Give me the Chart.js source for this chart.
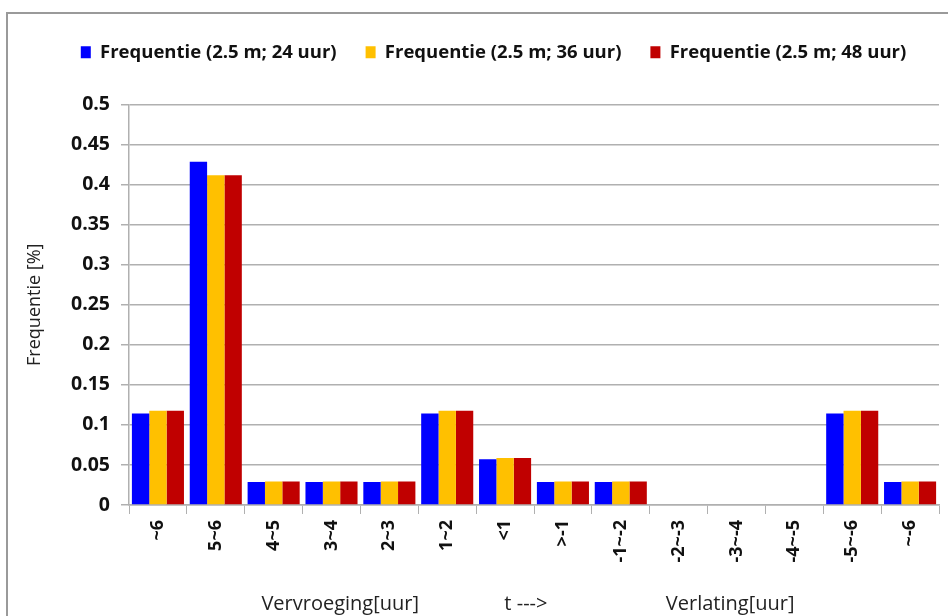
<!DOCTYPE html>
<html>
<head>
<meta charset="utf-8">
<script src="https://cdn.jsdelivr.net/npm/chart.js@4/dist/chart.umd.min.js"></script>
<style>
  html, body { margin: 0; padding: 0; background: #fff; }
  #wrap { width: 948px; height: 616px; position: relative; }
</style>
</head>
<body>
<div id="wrap"><canvas id="myChart" width="948" height="616"></canvas></div>
<script>
// categories (uur) and frequencies per series
const categories = ['~6', '5~6', '4~5', '3~4', '2~3', '1~2', '<1', '>-1', '-1~-2', '-2~-3', '-3~-4', '-4~-5', '-5~-6', '~-6'];
const freq24 = [0.1143, 0.4286, 0.0286, 0.0286, 0.0286, 0.1143, 0.0571, 0.0286, 0.0286, 0, 0, 0, 0.1143, 0.0286];
const freq36 = [0.1176, 0.4118, 0.0294, 0.0294, 0.0294, 0.1176, 0.0588, 0.0294, 0.0294, 0, 0, 0, 0.1176, 0.0294];
const freq48 = [0.1176, 0.4118, 0.0294, 0.0294, 0.0294, 0.1176, 0.0588, 0.0294, 0.0294, 0, 0, 0, 0.1176, 0.0294];
const seriesLabels = ['Frequentie (2.5 m; 24 uur)', 'Frequentie (2.5 m; 36 uur)', 'Frequentie (2.5 m; 48 uur)'];
const yTicks = [0, 0.05, 0.1, 0.15, 0.2, 0.25, 0.3, 0.35, 0.4, 0.45, 0.5];

const FONT = "'Open Sans', sans-serif";
const gridGray = '#b0b0b0';

// frame + bottom axis texts
const extras = {
  id: 'extras',
  beforeInit(chart) {
    // extra room under the legend
    const fit = chart.legend.fit;
    chart.legend.fit = function () { fit.call(this); this.height += 33; };
  },
  afterLayout(chart) {
    // legend sits a bit right of centre in the original
    chart.legend.left += 20;
    chart.legend.right += 20;
  },
  beforeDraw(chart) {
    const c = chart.ctx;
    c.save();
    c.fillStyle = '#fff';
    c.fillRect(0, 0, chart.width, chart.height);
    c.strokeStyle = '#9a9a9a';
    c.lineWidth = 2;
    c.strokeRect(7, 13, chart.width + 20, chart.height + 20);
    c.restore();
  },
  afterDraw(chart) {
    const c = chart.ctx, x = chart.scales.x;
    c.save();
    c.font = "20px " + FONT;
    c.fillStyle = '#222';
    c.textAlign = 'center';
    c.textBaseline = 'middle';
    c.fillText('Vervroeging[uur]', x.getPixelForValue(3.15), 604);
    c.fillText('t --->', x.getPixelForValue(6.36), 604);
    c.fillText('Verlating[uur]', x.getPixelForValue(9.89), 604);
    c.restore();
  }
};

new Chart(document.getElementById('myChart').getContext('2d'), {
  type: 'bar',
  data: {
    labels: categories,
    datasets: [
      { label: seriesLabels[0], data: freq24, backgroundColor: '#0000ff' },
      { label: seriesLabels[1], data: freq36, backgroundColor: '#ffc000' },
      { label: seriesLabels[2], data: freq48, backgroundColor: '#c00000' }
    ]
  },
  options: {
    responsive: false,
    animation: false,
    devicePixelRatio: 1,
    layout: { padding: { left: 8, right: 9, top: 14, bottom: 0 } },
    datasets: { bar: { categoryPercentage: 0.9, barPercentage: 1.0 } },
    plugins: {
      tooltip: { enabled: false },
      legend: {
        position: 'top',
        labels: {
          font: { family: FONT, size: 18.5, weight: 'bold' },
          color: '#111',
          boxWidth: 10,
          boxHeight: 12,
          padding: 29
        }
      }
    },
    scales: {
      x: {
        afterFit(s) { s.height = 111; },
        grid: { drawOnChartArea: false, drawTicks: true, tickLength: 9, color: gridGray, offset: true },
        border: { color: gridGray, width: 1.5 },
        ticks: {
          autoSkip: false, minRotation: 90, maxRotation: 90, padding: 6,
          font: { family: FONT, size: 18, weight: 'bold' }, color: '#111'
        }
      },
      y: {
        min: 0, max: 0.5,
        afterFit(s) { s.width = 121; },
        afterBuildTicks(s) { s.ticks = yTicks.map(v => ({ value: v })); },
        grid: { color: gridGray, lineWidth: 1.5, tickLength: 8 },
        border: { color: gridGray, width: 1.5 },
        ticks: {
          padding: 11,
          font: { family: FONT, size: 19.5, weight: 'bold' }, color: '#111',
          callback: v => String(Math.round(v * 100) / 100)
        },
        title: {
          display: true, text: 'Frequentie [%]',
          font: { family: FONT, size: 18 }, color: '#222', padding: { top: 16, bottom: 0 }
        }
      }
    }
  },
  plugins: [extras]
});
</script>
</body>
</html>
